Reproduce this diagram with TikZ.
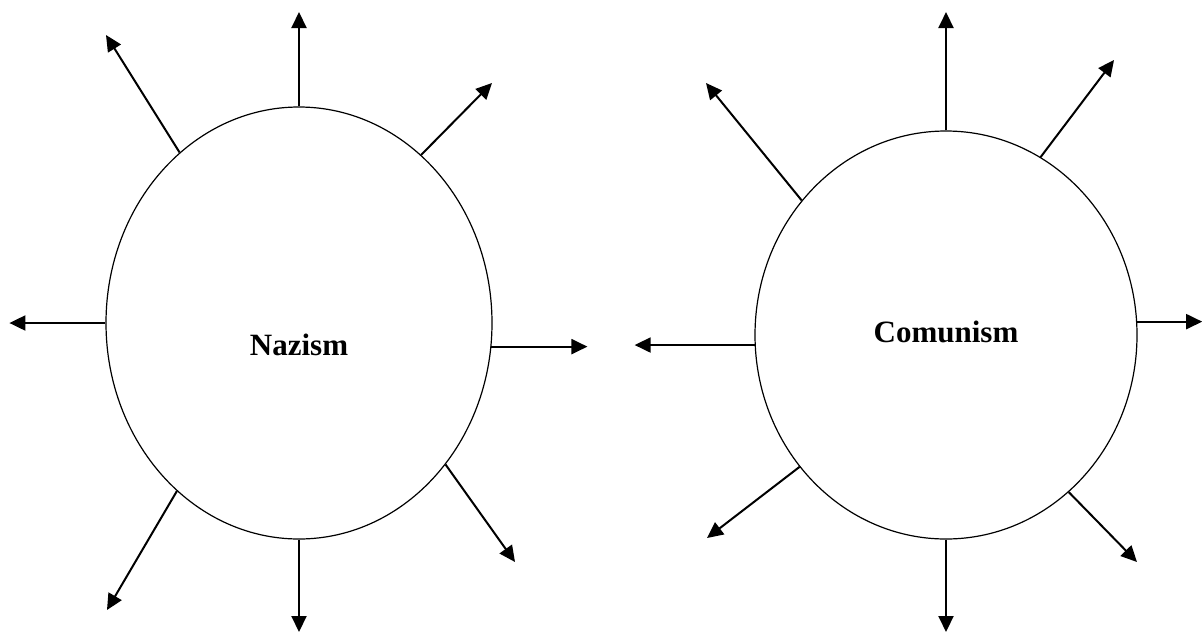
\documentclass[tikz,border=0pt]{standalone}
\usepackage{fontspec}
\setmainfont{Liberation Serif}
\usepackage{tikz}
\usetikzlibrary{shapes.geometric,arrows.meta,positioning}

\tikzset{
  blob/.style={draw, ellipse, inner sep=0pt, line width=0.6pt},
  tag/.style={font=\bfseries\fontsize{15.5}{18}\selectfont, inner sep=0pt},
  ray/.style={-{Triangle[length=8pt,width=7.5pt]}, line width=1pt}
}

\begin{document}
\begin{tikzpicture}[x=0.5pt, y=-0.5pt]
    \useasboundingbox (0,0) rectangle (1202,632);

    \node[blob, minimum width=193pt, minimum height=216pt] (naz)  at (299,323) {};
    \node[blob, minimum width=191pt, minimum height=204pt] (comm) at (946,335) {};
    \node[tag, below=11pt of naz.center, anchor=center]  (naz_t)  {Nazism};
    \node[tag, above=1.5pt of comm.center, anchor=center] (comm_t) {Comunism};

    % free ends, left
    \coordinate (n1) at (299,12);
    \coordinate (n2) at (106,35);
    \coordinate (n3) at (492,83);
    \path (naz.180) ++(-96,0) coordinate (n4);
    \path (naz.-7.1) ++(96,0) coordinate (n5);
    \coordinate (n6) at (107,610);
    \coordinate (n7) at (299,632);
    \coordinate (n8) at (515,562);
    % free ends, right
    \coordinate (c1) at (946,12);
    \coordinate (c2) at (706,83);
    \coordinate (c3) at (1114,60);
    \path (comm.183.6) ++(-120,0) coordinate (c4);
    \path (comm.4.8) ++(65,0) coordinate (c5);
    \coordinate (c6) at (707,538);
    \coordinate (c7) at (946,632);
    \coordinate (c8) at (1137,562);

    \draw[ray] (naz.90)    -- (n1);
    \draw[ray] (naz.125.8) -- (n2);
    \draw[ray] (naz.54.2)  -- (n3);
    \draw[ray] (naz.180)   -- (n4);
    \draw[ray] (naz.-7.1)  -- (n5);
    \draw[ray] (naz.234.2) -- (n6);
    \draw[ray] (naz.270)   -- (n7);
    \draw[ray] (naz.-44.6) -- (n8);

    \draw[ray] (comm.90)    -- (c1);
    \draw[ray] (comm.137.5) -- (c2);
    \draw[ray] (comm.62.1)  -- (c3);
    \draw[ray] (comm.183.6) -- (c4);
    \draw[ray] (comm.4.8)   -- (c5);
    \draw[ray] (comm.222.3) -- (c6);
    \draw[ray] (comm.270)   -- (c7);
    \draw[ray] (comm.-52.4) -- (c8);
\end{tikzpicture}
\end{document}
